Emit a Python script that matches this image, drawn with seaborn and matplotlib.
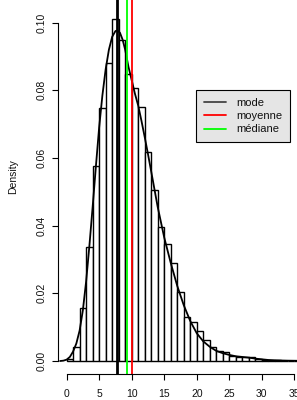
import numpy as np
import pandas as pd
import matplotlib
matplotlib.use("Agg")
import matplotlib.pyplot as plt
from matplotlib.lines import Line2D
import seaborn as sns

# ==============================================================================
# DATA
# ==============================================================================
# histogram: unit-width bins starting at 0, heights are densities
bin_left = np.arange(0, 36)
bin_density = [0.0005, 0.0040, 0.0157, 0.0338, 0.0577, 0.0748, 0.0880, 0.1010,
               0.0950, 0.0848, 0.0807, 0.0750, 0.0618, 0.0505, 0.0397, 0.0345,
               0.0290, 0.0205, 0.0131, 0.0116, 0.0089, 0.0062, 0.0042, 0.0030,
               0.0028, 0.0015, 0.0013, 0.0013, 0.0011, 0.0006, 0.0003, 0.0003,
               0.0002, 0.0001, 0.0001, 0.00005]

# estimated density curve
curve_x = [-1, -0.5, 0, 0.5, 1, 1.5, 2, 2.5, 3, 3.5, 4, 4.5, 5, 5.5, 6, 6.5,
           7, 7.5, 7.8, 8.2, 8.6, 9, 9.5, 10, 10.5, 11, 11.5, 12, 12.5, 13,
           14, 15, 16, 17, 18, 19, 20, 21, 22, 23, 24, 25, 26, 27, 28, 29,
           30, 31, 32, 34, 36, 37]
curve_y = [0, 0.0001, 0.0004, 0.0012, 0.0028, 0.0052, 0.0090, 0.0150, 0.0235,
           0.0340, 0.0455, 0.0575, 0.0690, 0.0785, 0.0862, 0.0920, 0.0958,
           0.0975, 0.0977, 0.0970, 0.0950, 0.0920, 0.0870, 0.0830, 0.0790,
           0.0755, 0.0710, 0.0662, 0.0612, 0.0560, 0.0455, 0.0365, 0.0290,
           0.0222, 0.0165, 0.0118, 0.0082, 0.0058, 0.0042, 0.0030, 0.0023,
           0.0018, 0.0014, 0.0012, 0.0010, 0.0007, 0.0005, 0.0003, 0.0002,
           0.0001, 0.00005, 0]

# summary statistics
stat_names = ["mode", "moyenne", "médiane"]
stat_values = [7.8, 10.0, 9.25]
stat_colors = ["black", "#ff0000", "#00ff00"]
stat_widths = [2.0, 1.3, 1.3]

x_ticks = [0, 5, 10, 15, 20, 25, 30, 35]
y_ticks = [0.00, 0.02, 0.04, 0.06, 0.08, 0.10]

hist_df = pd.DataFrame({"mid": bin_left + 0.5, "density": bin_density})
curve_df = pd.DataFrame({"x": curve_x, "y": curve_y})

# ==============================================================================
# PLOT
# ==============================================================================
sns.set_theme(style="white")
plt.rcParams["font.family"] = ["Liberation Sans", "DejaVu Sans"]

fig = plt.figure(figsize=(2.97, 4.0), dpi=100)
ax = fig.add_axes([0.194, 0.065, 0.806, 0.985])

sns.histplot(data=hist_df, x="mid", weights="density", binwidth=1,
             binrange=(0, 36), stat="count", color="white",
             edgecolor="black", linewidth=1.0, alpha=1, ax=ax)
sns.lineplot(data=curve_df, x="x", y="y", color="black", linewidth=1.3, ax=ax)

for val, col, lw in zip(stat_values, stat_colors, stat_widths):
    ax.axvline(val, color=col, linewidth=lw)

ax.set_xlim(-1.38, 35.4)
ax.set_ylim(-0.00384, 0.1126)

ax.set_xticks(x_ticks)
ax.set_xticklabels([str(t) for t in x_ticks])
ax.set_yticks(y_ticks)
ax.set_yticklabels([f"{t:.2f}" for t in y_ticks], rotation=90, va="center")
ax.tick_params(axis="both", labelsize=7.5, length=4, width=0.8, color="black",
               labelcolor="#111111", direction="out", bottom=True, left=True)
ax.tick_params(axis="x", pad=7)
ax.tick_params(axis="y", pad=4)

for side in ["top", "right"]:
    ax.spines[side].set_visible(False)
for side in ["left", "bottom"]:
    ax.spines[side].set_color("black")
    ax.spines[side].set_linewidth(0.8)
ax.spines["left"].set_bounds(0, 0.10)
ax.spines["bottom"].set_bounds(0, 35)

ax.set_xlabel("")
ax.set_ylabel("Density", fontsize=7.5, color="#111111")
ax.yaxis.set_label_coords(-0.166, 0.5)

handles = [Line2D([0], [0], color=c, linewidth=1.3) for c in stat_colors]
handles[0].set_color("#444444")
leg = ax.legend(handles, stat_names, loc="upper left",
                bbox_to_anchor=(0.66, 0.775), bbox_transform=fig.transFigure,
                borderaxespad=0, fontsize=8, handlelength=2.0,
                handletextpad=0.9, labelspacing=0.3, borderpad=0.7,
                fancybox=False, framealpha=1, facecolor="#e5e5e5",
                edgecolor="black")
leg.get_frame().set_linewidth(0.8)
for txt in leg.get_texts():
    txt.set_color("#111111")

plt.savefig("out.png", dpi=100)
